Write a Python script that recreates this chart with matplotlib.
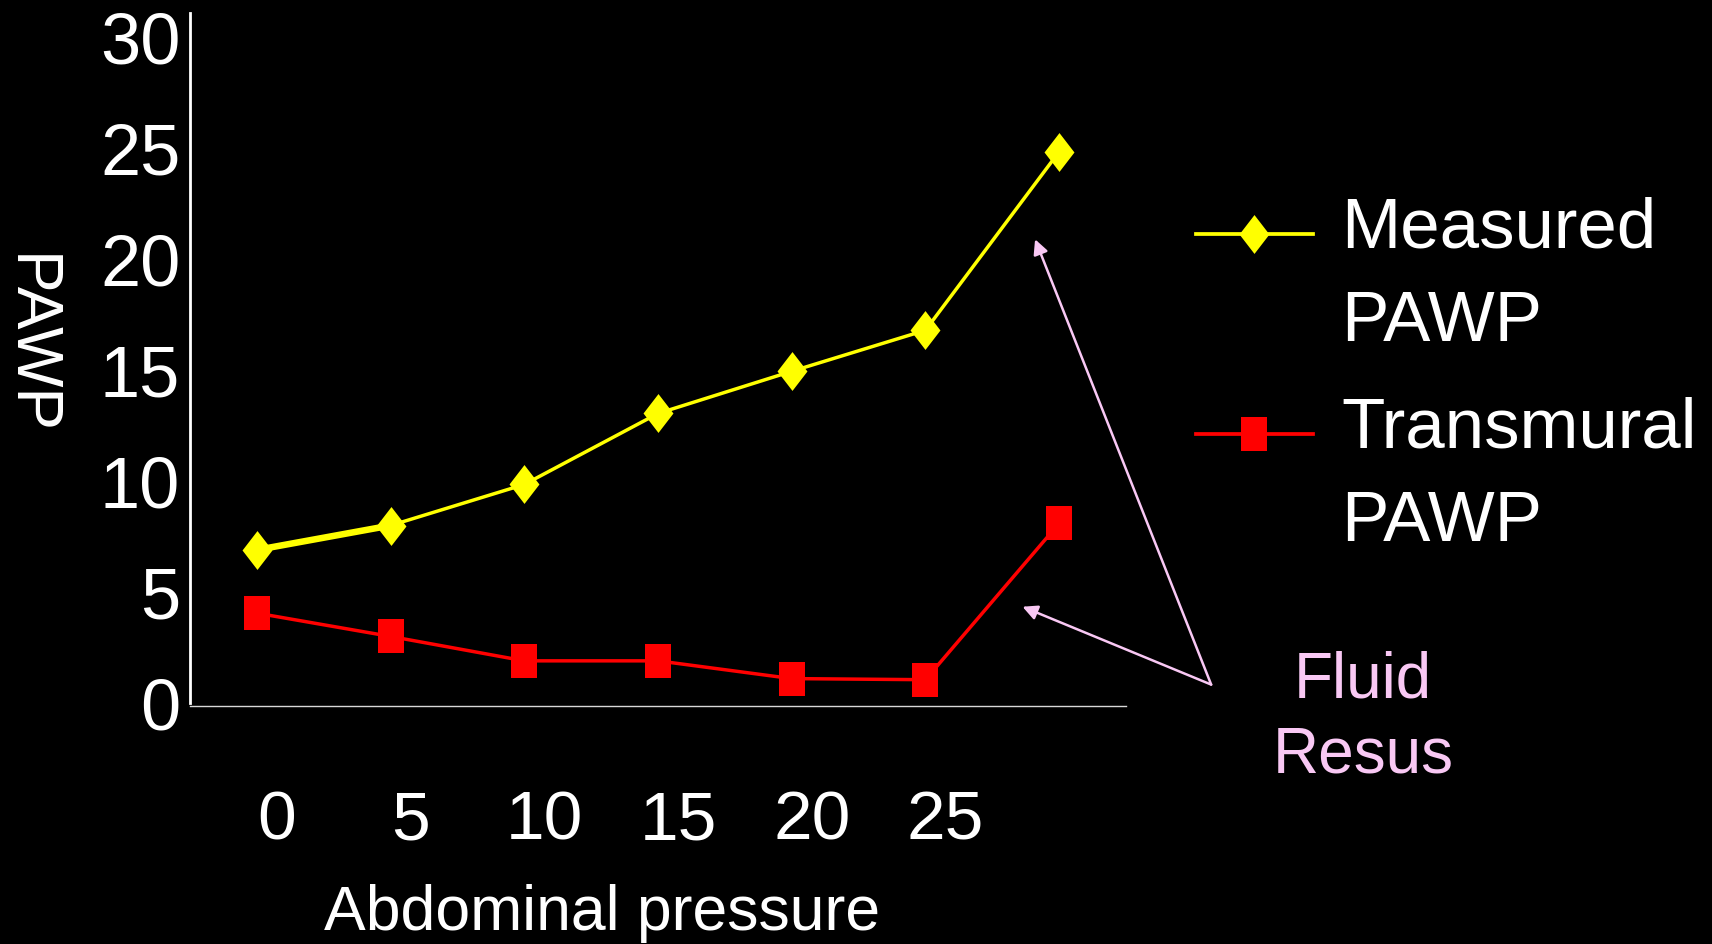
import numpy as np
import matplotlib
matplotlib.use("Agg")
import matplotlib.pyplot as plt
from matplotlib.path import Path
from matplotlib.transforms import ScaledTranslation
from matplotlib.legend_handler import HandlerLine2D

plt.rcParams['font.family'] = ['Liberation Sans', 'DejaVu Sans']

# data
categories = ['0', '5', '10', '15', '20', '25', '']
measured_pawp = [6.9, 8.0, 9.85, 13.05, 14.95, 16.8, 24.85]
transmural_pawp = [4.05, 3.0, 1.9, 1.9, 1.1, 1.05, 8.1]
y_ticks = [0, 5, 10, 15, 20, 25, 30]

BG = 'black'
FG = 'white'
YELLOW = '#FFFF00'
RED = '#FF0000'
PINK = '#F9C8F4'

# tall diamond and tall rectangle markers like the original slide
diamond = Path([(0, 0.5), (0.385, 0), (0, -0.5), (-0.385, 0), (0, 0.5)],
               [Path.MOVETO, Path.LINETO, Path.LINETO, Path.LINETO, Path.CLOSEPOLY])
rect = Path([(-0.375, -0.5), (0.375, -0.5), (0.375, 0.5), (-0.375, 0.5), (-0.375, -0.5)],
            [Path.MOVETO, Path.LINETO, Path.LINETO, Path.LINETO, Path.CLOSEPOLY])


class FirstLineHandler(HandlerLine2D):
    "puts the legend handle level with the first text line"
    def __init__(self, shift=31, **kw):
        super().__init__(**kw)
        self.shift = shift

    def create_artists(self, *args, **kwargs):
        artists = super().create_artists(*args, **kwargs)
        for a in artists:
            a.set_ydata(np.asarray(a.get_ydata()) + self.shift)
        return artists


fig = plt.figure(figsize=(17.12, 9.44), dpi=100, facecolor=BG)
ax = fig.add_axes([190 / 1712, 241 / 944, 936 / 1712, 690 / 944], facecolor=BG)

x = np.arange(len(categories))

# first segment is drawn heavier in the reference
ax.plot(x[:2], measured_pawp[:2], color=YELLOW, lw=4.7, solid_capstyle='round', zorder=2)
line_m, = ax.plot(x, measured_pawp, color=YELLOW, lw=2.5, marker=diamond,
                  markersize=28, markeredgewidth=0, zorder=3)
line_t, = ax.plot(x, transmural_pawp, color=RED, lw=2.5, marker=rect,
                  markersize=24.5, markeredgewidth=0, zorder=3)

ax.set_xlim(-0.5, len(categories) - 0.5)
ax.set_ylim(0, 31.1)

for side in ['top', 'right']:
    ax.spines[side].set_visible(False)
ax.spines['left'].set_color(FG)
ax.spines['left'].set_linewidth(2)
ax.spines['bottom'].set_color('#d8d8d8')
ax.spines['bottom'].set_linewidth(1)
ax.spines['bottom'].set_position(('outward', 2.5))

ax.set_yticks(y_ticks)
ax.tick_params(axis='y', length=0, pad=7, labelsize=52, labelcolor=FG)
ax.set_xticks(x)
ax.set_xticklabels(categories)
ax.tick_params(axis='x', length=0, pad=60, labelsize=50, labelcolor=FG)
# category labels sit a little right of their points in the original
for lab in ax.get_xticklabels():
    lab.set_transform(lab.get_transform() + ScaledTranslation(0.20, 0, fig.dpi_scale_trans))

fig.text(602 / 1712, 1 - 884 / 944, 'Abdominal pressure', color=FG, fontsize=45,
         ha='center', va='top')
fig.text(29 / 1712, 1 - 345 / 944, 'PAWP', color=FG, fontsize=46, rotation=-90,
         ha='center', va='center')

leg = ax.legend([line_m, line_t], ['Measured\nPAWP', 'Transmural\nPAWP'],
                loc='upper left', bbox_to_anchor=(1196 / 1712, 1 - 196 / 944),
                bbox_transform=fig.transFigure, frameon=False, fontsize=51,
                handlelength=1.65, handletextpad=0.4, labelspacing=0.57,
                borderpad=0, borderaxespad=0,
                handler_map={line_m: FirstLineHandler(), line_t: FirstLineHandler()})
for t in leg.get_texts():
    t.set_color(FG)
    t.set_linespacing(1.55)
for h in leg.legend_handles:
    h.set_linewidth(2.7)

# "Fluid Resus" arrows
tail = (7.137, 0.83)
arrow_kw = dict(arrowstyle='-|>', color=PINK, lw=1.8, mutation_scale=22,
                shrinkA=0, shrinkB=0)
ax.annotate('', xy=(5.82, 20.9), xytext=tail, arrowprops=arrow_kw, annotation_clip=False)
ax.annotate('', xy=(5.726, 4.34), xytext=tail, arrowprops=arrow_kw, annotation_clip=False)
fig.text(1363 / 1712, 1 - 651 / 944, 'Fluid\nResus', color=PINK, fontsize=46,
         ha='center', va='top', linespacing=1.3)

fig.savefig('out.png', dpi=100, facecolor=BG)
